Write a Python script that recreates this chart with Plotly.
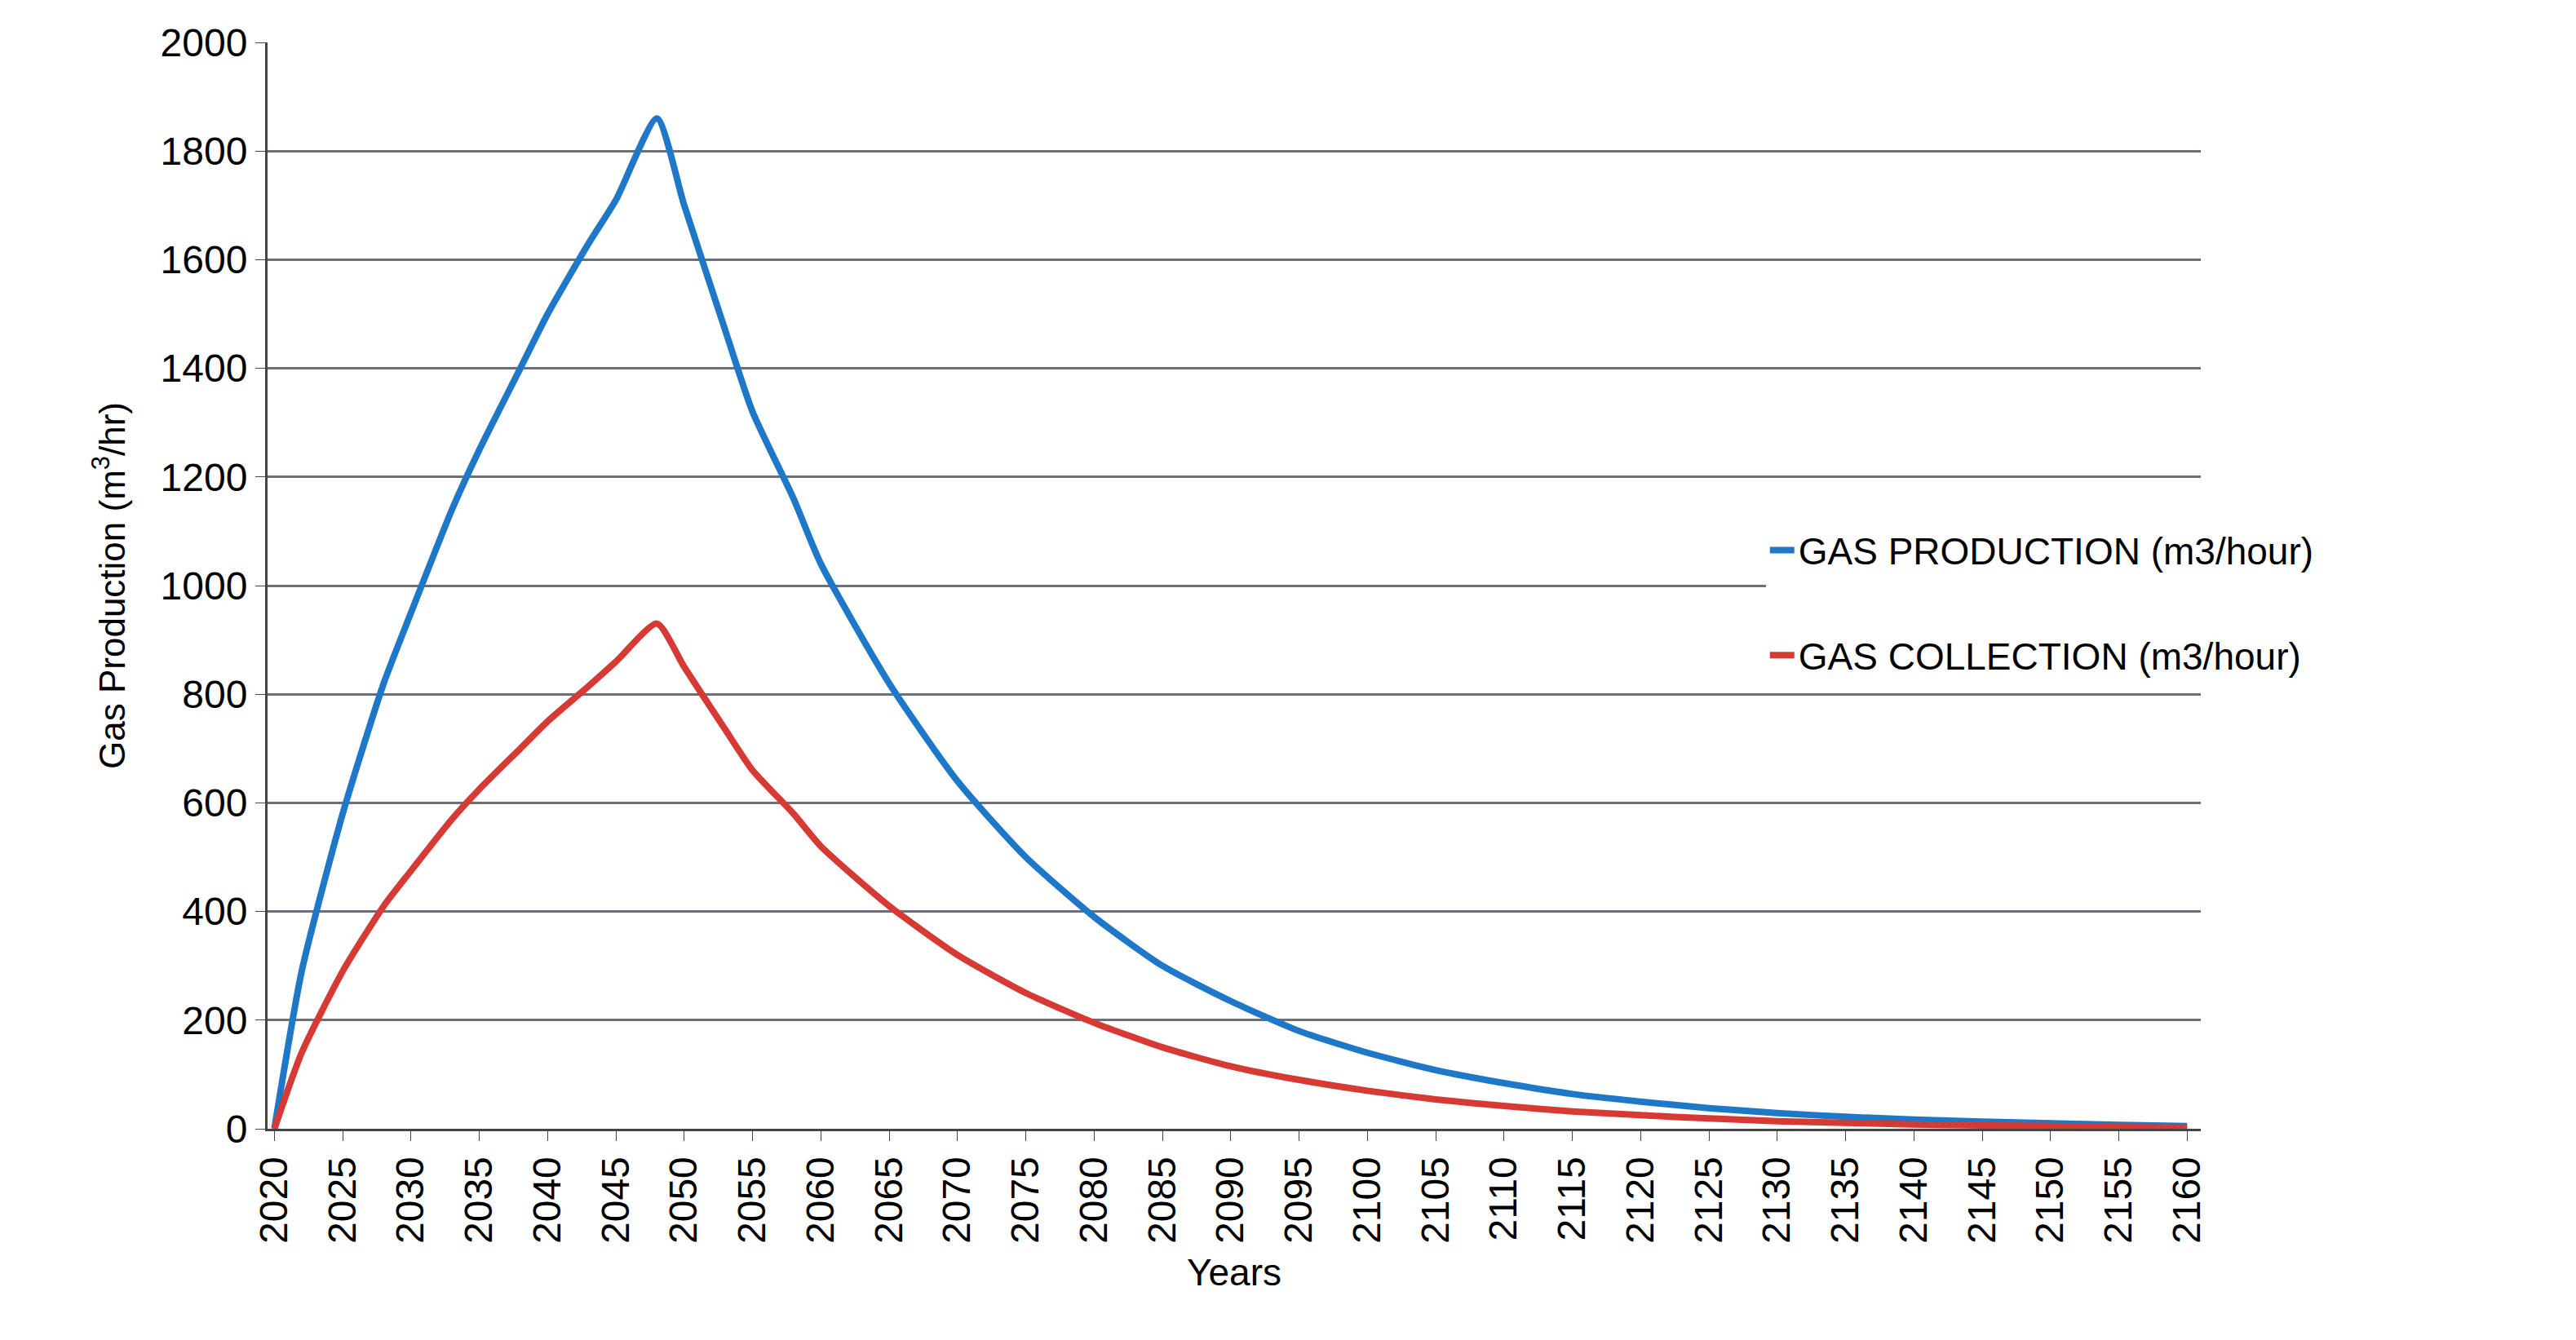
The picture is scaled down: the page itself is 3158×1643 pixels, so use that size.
import plotly.graph_objects as go

years = [2020, 2022, 2025, 2028, 2030, 2033, 2035, 2038, 2040, 2043, 2045, 2048,
         2050, 2053, 2055, 2058, 2060, 2065, 2070, 2075,
         2080, 2085, 2090, 2095, 2100, 2105, 2110, 2115, 2120, 2125, 2130, 2135,
         2140, 2145, 2150, 2155, 2160]
gas_production = [0, 290, 580, 820, 950, 1140, 1250, 1400, 1500, 1630, 1710, 1860,
                  1700, 1470, 1320, 1160, 1040, 820, 640, 500,
                  390, 300, 235, 180, 140, 108, 84, 64, 50, 38, 29, 22,
                  17, 13, 10, 7, 5]
gas_collection = [0, 140, 290, 410, 475, 570, 625, 700, 750, 815, 860, 930,
                  850, 735, 660, 580, 520, 410, 320, 250,
                  195, 150, 115, 90, 70, 54, 42, 32, 25, 19, 14, 11,
                  8, 6, 5, 3, 2]
tick_years = list(range(2020, 2161, 5))

font = "Liberation Sans"

fig = go.Figure()
fig.add_trace(go.Scatter(x=years, y=gas_production, mode="lines",
                         name="GAS PRODUCTION (m3/hour)", legendgroup="a",
                         line=dict(color="#1f77c8", width=8, shape="spline", smoothing=0.6)))
fig.add_trace(go.Scatter(x=years, y=gas_collection, mode="lines",
                         name="GAS COLLECTION (m3/hour)", legendgroup="b",
                         line=dict(color="#d63a35", width=8, shape="spline", smoothing=0.6)))

fig.update_layout(
    width=3158, height=1643,
    margin=dict(l=320, r=468, t=44, b=267),
    plot_bgcolor="white", paper_bgcolor="white",
    font=dict(family=font, size=48, color="black"),
    legend=dict(x=0.775, y=0.56, xanchor="left", yanchor="top",
                tracegroupgap=66, font=dict(size=46)),
    xaxis=dict(
        range=[2019.5, 2161], tickvals=tick_years, tickangle=-90,
        showgrid=False, showline=True, linecolor="#444", linewidth=3,
        ticks="outside", ticklen=12, tickcolor="#444",
        title=dict(text="Years", font=dict(size=46), standoff=20),
    ),
    yaxis=dict(
        range=[0, 2000], dtick=200, showgrid=True, gridcolor="#6e6e7a", gridwidth=3,
        showline=True, linecolor="#444", linewidth=3, zeroline=False,
        ticks="outside", ticklen=12, tickcolor="#444",
        title=dict(text="Gas Production (m<sup>3</sup>/hr)", font=dict(size=44), standoff=30),
    ),
)

fig.write_html("out.html")
